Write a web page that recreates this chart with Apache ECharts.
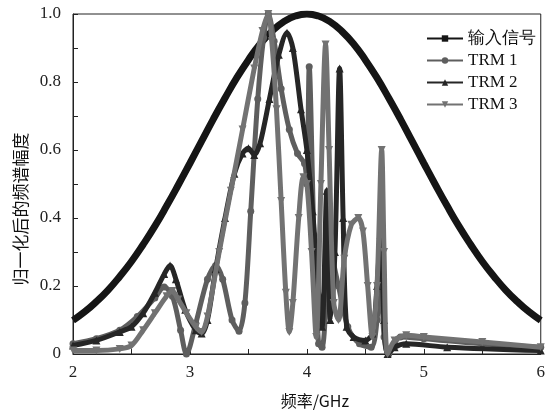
<!DOCTYPE html>
<html>
<head>
<meta charset="utf-8">
<script src="https://cdn.jsdelivr.net/npm/echarts@6/dist/echarts.min.js"></script>
<style>html,body{margin:0;padding:0;background:#fff;}#c{width:548px;height:414px;}</style>
</head>
<body>
<div id="c"></div>
<script>
// ---- data ----
const seriesNames = ['输入信号', 'TRM 1', 'TRM 2', 'TRM 3'];
const xTicks = [2, 3, 4, 5, 6];
const yTicks = [0, 0.2, 0.4, 0.6, 0.8, 1.0];

const inputFreq = [2.0,2.1,2.2,2.3,2.4,2.5,2.6,2.7,2.8,2.9,3.0,3.1,3.2,3.3,3.4,3.5,3.6,3.7,3.8,3.9,4.0,
                   4.1,4.2,4.3,4.4,4.5,4.6,4.7,4.8,4.9,5.0,5.1,5.2,5.3,5.4,5.5,5.6,5.7,5.8,5.9,6.0];
const inputAmp  = [0.099,0.124,0.154,0.188,0.228,0.272,0.322,0.376,0.435,0.497,0.561,0.626,0.691,0.753,0.812,0.865,0.912,0.949,0.977,0.994,1.0,
                   0.994,0.977,0.949,0.912,0.865,0.812,0.753,0.691,0.626,0.561,0.497,0.435,0.376,0.322,0.272,0.228,0.188,0.154,0.124,0.099];

const trm1Freq = [2.0,2.2,2.4,2.55,2.7,2.78,2.85,2.92,2.97,3.05,3.15,3.22,3.28,3.36,3.42,3.47,3.52,3.58,3.63,3.67,3.72,3.78,3.85,3.92,3.98,4.0,4.02,4.06,4.1,4.13,4.2,4.27,4.35,4.45,4.55,4.6,4.63,4.66,4.7,4.8,5.0,5.5,6.0];
const trm1Amp  = [0.03,0.045,0.07,0.11,0.165,0.197,0.17,0.07,0.0,0.09,0.22,0.26,0.22,0.1,0.067,0.15,0.42,0.75,0.93,1.0,0.92,0.78,0.66,0.59,0.56,0.5,0.845,0.35,0.03,0.02,0.3,0.2,0.08,0.03,0.02,0.1,0.25,0.05,0.0,0.05,0.045,0.03,0.02];

const trm2Freq = [2.0,2.2,2.4,2.5,2.6,2.7,2.78,2.83,2.88,2.96,3.05,3.1,3.15,3.22,3.3,3.38,3.45,3.5,3.55,3.6,3.68,3.76,3.83,3.88,3.95,4.0,4.05,4.1,4.13,4.17,4.2,4.24,4.28,4.31,4.34,4.4,4.5,4.56,4.6,4.63,4.66,4.69,4.75,4.85,5.2,6.0];
const trm2Amp  = [0.025,0.04,0.065,0.08,0.12,0.18,0.235,0.26,0.22,0.13,0.07,0.06,0.1,0.25,0.4,0.53,0.59,0.605,0.585,0.62,0.75,0.88,0.945,0.9,0.72,0.6,0.42,0.18,0.08,0.48,0.1,0.3,0.84,0.4,0.08,0.05,0.04,0.06,0.2,0.35,0.1,0.0,0.02,0.03,0.02,0.01];

const trm3Freq = [2.0,2.2,2.4,2.5,2.6,2.7,2.8,2.85,2.9,2.97,3.05,3.1,3.15,3.25,3.35,3.45,3.55,3.62,3.67,3.7,3.74,3.78,3.82,3.85,3.88,3.93,3.97,4.0,4.04,4.08,4.12,4.16,4.19,4.23,4.27,4.32,4.38,4.44,4.48,4.52,4.56,4.6,4.64,4.66,4.69,4.75,4.85,5.0,5.5,6.0];
const trm3Amp  = [0.01,0.01,0.015,0.025,0.07,0.12,0.17,0.185,0.16,0.12,0.08,0.065,0.11,0.3,0.48,0.66,0.84,0.95,1.0,0.92,0.72,0.45,0.18,0.065,0.15,0.4,0.52,0.5,0.3,0.05,0.5,0.91,0.6,0.15,0.1,0.28,0.38,0.4,0.36,0.2,0.05,0.2,0.6,0.3,0.0,0.04,0.055,0.05,0.035,0.02];

const zip = (a, b) => a.map((v, i) => [v, b[i]]);

const serif = 'Liberation Serif';
const cjk = 'Noto Sans CJK SC';

const chart = echarts.init(document.getElementById('c'));
chart.setOption({
  animation: false,
  backgroundColor: '#fff',
  grid: { left: 73, right: 7, top: 14, bottom: 59, show: true, borderColor: '#222', borderWidth: 1, backgroundColor: 'transparent' },
  legend: {
    orient: 'vertical', right: 7, top: 25, itemGap: 5, itemWidth: 36, itemHeight: 8,
    data: seriesNames,
    textStyle: { fontFamily: serif, fontSize: 17, color: '#111' }
  },
  xAxis: {
    type: 'value', min: xTicks[0], max: xTicks[xTicks.length - 1], interval: 1,
    name: '频率/GHz', nameLocation: 'middle', nameGap: 39,
    nameTextStyle: { fontFamily: cjk, fontSize: 16, color: '#111', padding: [0, 0, 0, 16] },
    axisLine: { lineStyle: { color: '#222' } },
    axisTick: { inside: true, length: 5, lineStyle: { color: '#222' } },
    minorTick: { show: true, splitNumber: 2, length: 5, lineStyle: { color: '#222' } },
    axisLabel: { fontFamily: serif, fontSize: 17, color: '#222', margin: 10 },
    splitLine: { show: false }
  },
  yAxis: {
    type: 'value', min: yTicks[0], max: yTicks[yTicks.length - 1], interval: 0.2,
    name: '归一化后的频谱幅度', nameLocation: 'middle', nameGap: 44, nameRotate: 90,
    nameTextStyle: { fontFamily: cjk, fontSize: 17, color: '#111', padding: [0, 50, 0, 0] },
    axisLine: { lineStyle: { color: '#222' } },
    axisTick: { inside: true, length: 5, lineStyle: { color: '#222' } },
    minorTick: { show: true, splitNumber: 2, length: 5, lineStyle: { color: '#222' } },
    axisLabel: { fontFamily: serif, fontSize: 17, color: '#222', margin: 12,
      formatter: v => (v === 0 ? '0' : v.toFixed(1)) },
    splitLine: { show: false }
  },
  series: [
    { name: seriesNames[0], type: 'line', data: zip(inputFreq, inputAmp), smooth: true,
      symbol: 'rect', symbolSize: 6, showSymbol: false, color: '#151515',
      lineStyle: { width: 7, color: '#151515' }, z: 1 },
    { name: seriesNames[1], type: 'line', data: zip(trm1Freq, trm1Amp), smooth: 0.3,
      symbol: 'circle', symbolSize: 7, color: '#5e5e5e',
      lineStyle: { width: 5, color: '#5e5e5e' }, z: 2 },
    { name: seriesNames[2], type: 'line', data: zip(trm2Freq, trm2Amp), smooth: 0.3,
      symbol: 'triangle', symbolSize: 8, color: '#262626',
      lineStyle: { width: 5, color: '#262626' }, z: 3 },
    { name: seriesNames[3], type: 'line', data: zip(trm3Freq, trm3Amp), smooth: 0.3,
      symbol: 'triangle', symbolRotate: 180, symbolSize: 8, color: '#727272',
      lineStyle: { width: 5, color: '#727272' }, z: 4 }
  ]
});
</script>
</body>
</html>
